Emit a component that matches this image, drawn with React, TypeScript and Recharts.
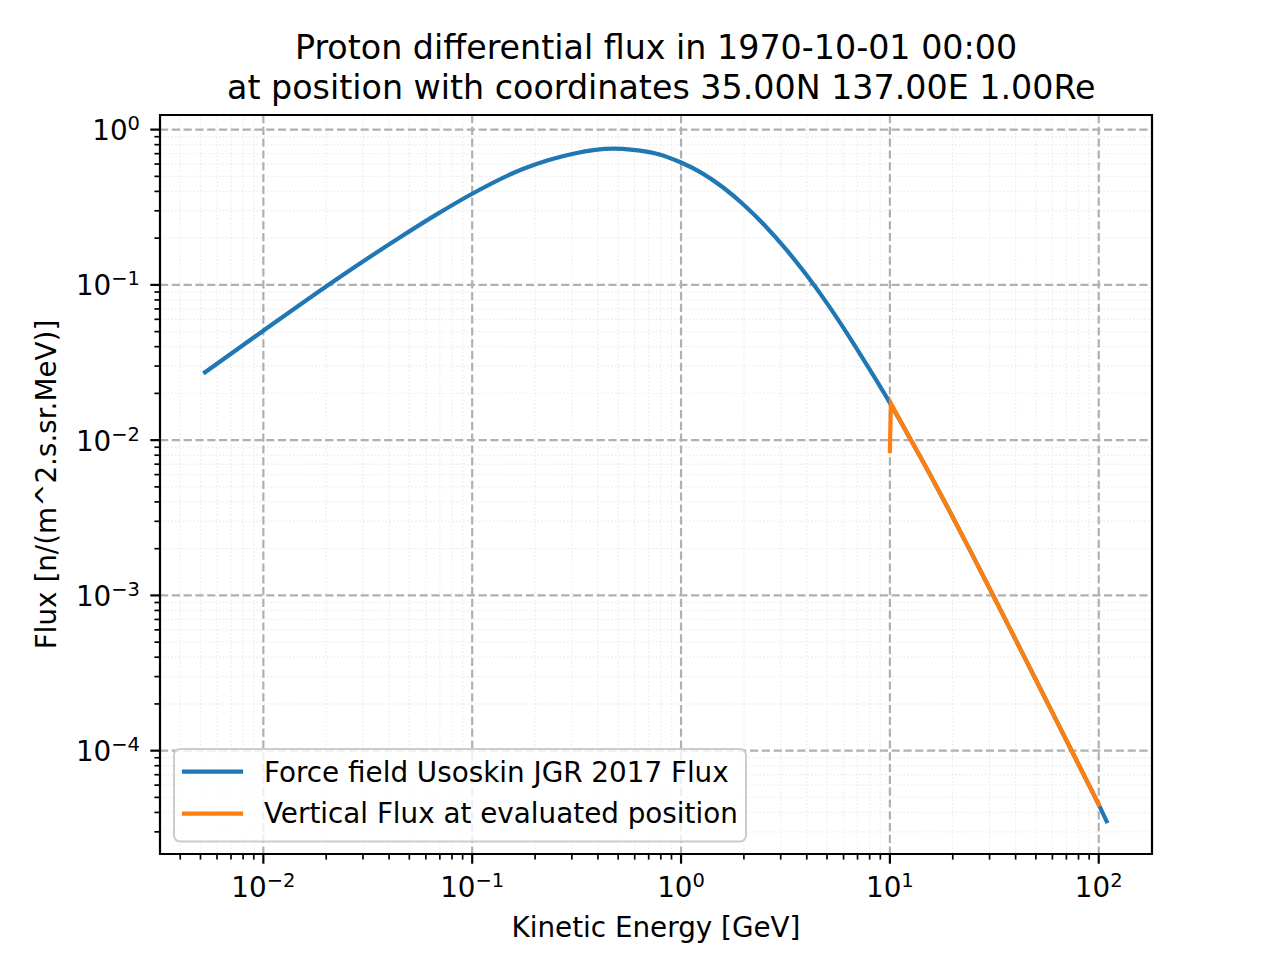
import React from "react";
import { LineChart, Line, XAxis, YAxis, CartesianGrid, ReferenceArea, Legend } from "recharts";

const BLUE = "#1f77b4";
const ORANGE = "#ff7f0e";
const FONT = "'DejaVu Sans', sans-serif";

const titleLines = [
  "Proton differential flux in 1970-10-01 00:00",
  " at position with coordinates 35.00N 137.00E 1.00Re",
];
const xLabel = "Kinetic Energy [GeV]";
const yLabel = "Flux [n/(m^2.s.sr.MeV)]";
const forceFieldName = "Force field Usoskin JGR 2017 Flux";
const verticalName = "Vertical Flux at evaluated position";

// force field spectrum (GeV, flux)
const forceFieldEnergy = [
  0.00526, 0.01, 0.0208, 0.0452, 0.0676, 0.1, 0.176, 0.231, 0.305, 0.473, 0.59, 0.764, 1.0, 1.259, 1.585,
  1.995, 2.512, 3.162, 3.981, 5.012, 6.31, 7.943, 10.0, 12.59, 15.85, 19.95, 25.12, 31.62, 39.81, 50.12, 63.1,
  79.43, 100, 109.1,
];
const forceFieldFlux = [
  0.02735, 0.0507, 0.1014, 0.2028, 0.2844, 0.3864, 0.5598, 0.6339, 0.6998, 0.7543, 0.7413, 0.6998, 0.6138,
  0.5248, 0.4256, 0.3284, 0.2421, 0.171, 0.1161, 0.07575, 0.04753, 0.02897, 0.01738, 0.01007, 0.005754,
  0.003214, 0.00177, 0.000966, 0.000525, 0.000284, 0.0001538, 8.32e-5, 4.49e-5, 3.51e-5,
];

// vertical flux at the evaluated position
const verticalEnergy = [10.0, 10.11, 12.59, 15.85, 19.95, 25.12, 31.62, 39.81, 50.12, 63.1, 79.43, 100];
const verticalFlux = [
  0.00853, 0.01722, 0.01007, 0.005754, 0.003214, 0.00177, 0.000966, 0.000525, 0.000284, 0.0001538, 8.32e-5,
  4.49e-5,
];

const xDomain = [0.0032, 179.9];
const yDomain = [2.16e-5, 1.242];
const xMajorTicks = [0.01, 0.1, 1, 10, 100];
const yMajorTicks = [1e-4, 1e-3, 1e-2, 1e-1, 1];

function minorTicks(lo: number, hi: number) {
  const out: number[] = [];
  for (let e = Math.floor(Math.log10(lo)); e <= Math.ceil(Math.log10(hi)); e++) {
    for (let m = 2; m <= 9; m++) {
      const v = m * Math.pow(10, e);
      if (v >= lo && v <= hi) out.push(v);
    }
  }
  return out;
}
const xMinorTicks = minorTicks(xDomain[0], xDomain[1]);
const yMinorTicks = minorTicks(yDomain[0], yDomain[1]);

const forceFieldData = forceFieldEnergy.map((x, i) => ({ x, y: forceFieldFlux[i] }));
const verticalData = verticalEnergy.map((x, i) => ({ x, y: verticalFlux[i] }));

function tickInfo(v: number) {
  const lg = Math.log10(v);
  const exp = Math.round(lg);
  return { exp, major: Math.abs(lg - exp) < 1e-6 };
}

function expText(exp: number) {
  return exp < 0 ? "\u2212" + -exp : String(exp);
}

const XTick = (props: any) => {
  const { x, y, payload } = props;
  const { exp, major } = tickInfo(payload.value);
  return (
    <g>
      <line x1={x} x2={x} y1={y} y2={y + (major ? 9.7 : 5.6)} stroke="#000" strokeWidth={major ? 2.2 : 1.7} />
      {major && (
        <text x={x} y={y + 43} textAnchor="middle" fontFamily={FONT} fontSize={27.8} fill="#000">
          10
          <tspan dy={-10} fontSize={19.5}>
            {expText(exp)}
          </tspan>
        </text>
      )}
    </g>
  );
};

const YTick = (props: any) => {
  const { x, y, payload } = props;
  const { exp, major } = tickInfo(payload.value);
  return (
    <g>
      <line x1={x - (major ? 9.7 : 5.6)} x2={x} y1={y} y2={y} stroke="#000" strokeWidth={major ? 2.2 : 1.7} />
      {major && (
        <text x={x - 20} y={y + 10.5} textAnchor="end" fontFamily={FONT} fontSize={27.8} fill="#000">
          10
          <tspan dy={-10} fontSize={19.5}>
            {expText(exp)}
          </tspan>
        </text>
      )}
    </g>
  );
};

const LegendBox = (props: any) => {
  const items = props.payload || [];
  return (
    <svg width={576} height={96} style={{ display: "block" }}>
      <rect x={1} y={1} width={572} height={92.5} rx={6} fill="rgba(255,255,255,0.8)" stroke="#cccccc" strokeWidth={2} />
      {items.map((p: any, i: number) => (
        <g key={i}>
          <line x1={11} x2={68} y1={23.7 + i * 42} y2={23.7 + i * 42} stroke={p.color} strokeWidth={4.2} strokeLinecap="square" />
          <text x={91} y={33.7 + i * 41} fontFamily={FONT} fontSize={27.8} fill="#000">
            {p.value}
          </text>
        </g>
      ))}
    </svg>
  );
};

export default function App() {
  return (
    <div style={{ position: "absolute", left: 0, top: 0, width: 1280, height: 960, background: "#fff" }}>
      <LineChart width={1280} height={960} margin={{ top: 115, right: 128, bottom: 0, left: 0 }}>
        <CartesianGrid
          verticalValues={xMinorTicks}
          horizontalValues={yMinorTicks}
          stroke="#ececec"
          strokeWidth={1.4}
          strokeDasharray="1.4 2.3"
        />
        <CartesianGrid
          verticalValues={xMajorTicks}
          horizontalValues={yMajorTicks}
          stroke="#b0b0b0"
          strokeWidth={2.2}
          strokeDasharray="8.2 3.6"
        />
        <XAxis
          dataKey="x"
          type="number"
          scale="log"
          domain={xDomain}
          allowDataOverflow
          ticks={[...xMinorTicks, ...xMajorTicks].sort((a, b) => a - b)}
          interval={0}
          tick={<XTick />}
          tickLine={false}
          axisLine={false}
          tickSize={0}
          tickMargin={0}
          height={106}
          label={{
            content: ({ viewBox }: any) => (
              <text
                x={viewBox.x + viewBox.width / 2}
                y={viewBox.y + 83}
                textAnchor="middle"
                fontFamily={FONT}
                fontSize={27.8}
                fill="#000"
              >
                {xLabel}
              </text>
            ),
          }}
        />
        <YAxis
          type="number"
          scale="log"
          domain={yDomain}
          allowDataOverflow
          ticks={[...yMinorTicks, ...yMajorTicks].sort((a, b) => a - b)}
          interval={0}
          tick={<YTick />}
          tickLine={false}
          axisLine={false}
          tickSize={0}
          tickMargin={0}
          width={160}
          label={{
            content: ({ viewBox }: any) => {
              const cx = viewBox.x + 56;
              const cy = viewBox.y + viewBox.height / 2;
              return (
                <text
                  x={cx}
                  y={cy}
                  transform={`rotate(-90 ${cx} ${cy})`}
                  textAnchor="middle"
                  fontFamily={FONT}
                  fontSize={27.8}
                  fill="#000"
                >
                  {yLabel}
                </text>
              );
            },
          }}
        />
        <Line
          data={forceFieldData}
          dataKey="y"
          name={forceFieldName}
          type="monotone"
          stroke={BLUE}
          strokeWidth={4.2}
          strokeLinecap="square"
          dot={false}
          activeDot={false}
          isAnimationActive={false}
        />
        <Line
          data={verticalData}
          dataKey="y"
          name={verticalName}
          type="linear"
          stroke={ORANGE}
          strokeWidth={4.2}
          strokeLinecap="square"
          dot={false}
          activeDot={false}
          isAnimationActive={false}
        />
        <ReferenceArea
          x1={xDomain[0]}
          x2={xDomain[1]}
          y1={yDomain[0]}
          y2={yDomain[1]}
          ifOverflow="visible"
          fill="none"
          fillOpacity={0}
          stroke="#000"
          strokeWidth={2.2}
        />
        <Legend
          layout="horizontal"
          verticalAlign="middle"
          align="center"
          content={<LegendBox />}
          wrapperStyle={{ left: 173, top: 748, width: 576, height: 96 }}
        />
      </LineChart>
      <svg
        width={1280}
        height={110}
        style={{ position: "absolute", left: 0, top: 0, pointerEvents: "none" }}
      >
        {titleLines.map((t, i) => (
          <text
            key={i}
            x={656}
            y={59.3 + i * 39.7}
            textAnchor="middle"
            fontFamily={FONT}
            fontSize={33.3}
            fill="#000"
            xmlSpace="preserve"
            style={{ whiteSpace: "pre" }}
          >
            {t}
          </text>
        ))}
      </svg>
    </div>
  );
}
